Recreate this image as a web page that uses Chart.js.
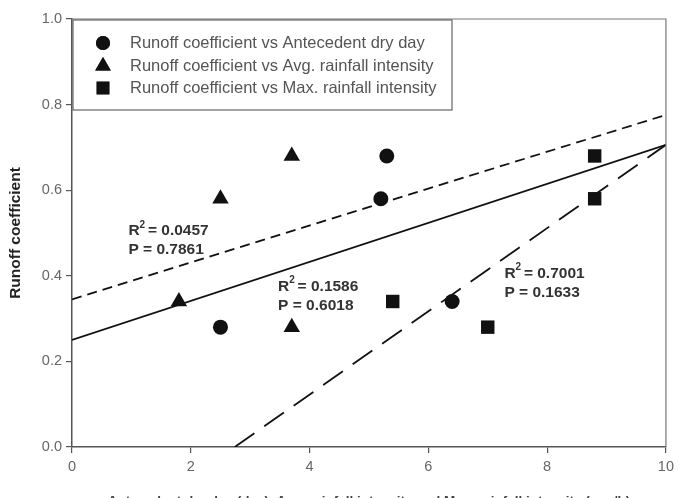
<!DOCTYPE html>
<html>
<head>
<meta charset="utf-8">
<script src="https://cdn.jsdelivr.net/npm/chart.js@4.4.1/dist/chart.umd.min.js"></script>
<style>
  html, body { margin: 0; padding: 0; background: #fff; }
  #wrap { width: 679px; height: 498px; overflow: hidden; position: relative; }
</style>
</head>
<body>
<div id="wrap"><canvas id="runoffChart" width="679" height="512"></canvas></div>
<script>
// Runoff coefficient scatter with linear fits

const xTicks = [0, 2, 4, 6, 8, 10];
const yTicks = [0.0, 0.2, 0.4, 0.6, 0.8, 1.0];

const seriesNames = [
  "Runoff coefficient vs Antecedent dry day",
  "Runoff coefficient vs Avg. rainfall intensity",
  "Runoff coefficient vs Max. rainfall intensity",
];

const dryDayX = [2.5, 5.2, 5.3, 6.4];
const dryDayY = [0.28, 0.58, 0.68, 0.34];

const avgIntensityX = [1.8, 2.5, 3.7, 3.7];
const avgIntensityY = [0.34, 0.58, 0.68, 0.28];

const maxIntensityX = [5.4, 7.0, 8.8, 8.8];
const maxIntensityY = [0.34, 0.28, 0.68, 0.58];

// fitted lines (end points, in data units)
const fitDashX = [0, 10];
const fitDashY = [0.345, 0.776];
const fitSolidX = [0, 10];
const fitSolidY = [0.25, 0.706];
const fitLongX = [2.74, 10];
const fitLongY = [0.0, 0.706];

const statR2 = ["0.0457", "0.1586", "0.7001"];
const statP = ["0.7861", "0.6018", "0.1633"];

const INK = "#111";
const AXIS = "#555";
const FONT = "'Liberation Sans', Arial, sans-serif";

function pairs(xs, ys) {
  return xs.map((x, i) => ({ x: x, y: ys[i] }));
}

function markerSet(label, xs, ys, style, radius) {
  return {
    type: "scatter",
    label: label,
    data: pairs(xs, ys),
    pointStyle: style,
    pointRadius: radius,
    pointHoverRadius: radius,
    backgroundColor: INK,
    borderColor: INK,
    borderWidth: 0,
  };
}

function fitSet(xs, ys, dash) {
  return {
    type: "line",
    label: "fit",
    data: pairs(xs, ys),
    borderColor: INK,
    borderWidth: 1.8,
    borderDash: dash,
    pointRadius: 0,
    fill: false,
    tension: 0,
  };
}

// R² / P labels, anchored in data units (left edge, first line centre)
const statAnchors = [
  { x: 0.95, y: 0.505 },
  { x: 3.47, y: 0.375 },
  { x: 7.28, y: 0.405 },
];

const framePlugin = {
  id: "frame",
  afterDatasetsDraw(chart) {
    const { ctx, chartArea: a } = chart;
    ctx.save();
    ctx.strokeStyle = "#777";
    ctx.lineWidth = 1.2;
    ctx.beginPath();
    ctx.moveTo(a.left, a.top);
    ctx.lineTo(a.right, a.top);
    ctx.lineTo(a.right, a.bottom);
    ctx.stroke();
    ctx.restore();
  },
};

const statsPlugin = {
  id: "stats",
  afterDatasetsDraw(chart) {
    const { ctx, scales } = chart;
    ctx.save();
    ctx.fillStyle = "#333";
    ctx.textBaseline = "middle";
    statAnchors.forEach((p, i) => {
      const px = scales.x.getPixelForValue(p.x);
      const py = scales.y.getPixelForValue(p.y);
      ctx.font = "bold 15.5px " + FONT;
      ctx.fillText("R", px, py);
      const rw = ctx.measureText("R").width;
      ctx.font = "bold 10px " + FONT;
      ctx.fillText("2", px + rw, py - 6);
      ctx.font = "bold 15.5px " + FONT;
      ctx.fillText(" = " + statR2[i], px + rw + 4, py);
      ctx.fillText("P = " + statP[i], px, py + 19);
    });
    ctx.restore();
  },
};

const legendPlugin = {
  id: "boxLegend",
  afterDraw(chart) {
    const { ctx, chartArea: a } = chart;
    const box = { x: a.left + 1, y: a.top + 1, w: 379, h: 90 };
    ctx.save();
    ctx.fillStyle = "#fff";
    ctx.fillRect(box.x, box.y, box.w, box.h);
    ctx.strokeStyle = "#666";
    ctx.lineWidth = 1.2;
    ctx.strokeRect(box.x, box.y, box.w, box.h);
    const styles = ["circle", "triangle", "rect"];
    const radii = [7, 9, 9];
    const rows = [23, 46, 68];
    ctx.font = "16.5px " + FONT;
    ctx.textBaseline = "middle";
    rows.forEach((dy, i) => {
      const cx = box.x + 30;
      const cy = box.y + dy;
      ctx.fillStyle = INK;
      Chart.helpers.drawPoint(ctx, { pointStyle: styles[i], radius: radii[i], rotation: 0, borderWidth: 0 }, cx, cy);
      ctx.fill();
      ctx.fillStyle = "#555";
      ctx.fillText(seriesNames[i], box.x + 57, cy);
    });
    ctx.restore();
  },
};

new Chart(document.getElementById("runoffChart"), {
  type: "scatter",
  data: {
    datasets: [
      fitSet(fitDashX, fitDashY, [10, 6]),
      fitSet(fitSolidX, fitSolidY, []),
      fitSet(fitLongX, fitLongY, [24, 12]),
      markerSet(seriesNames[0], dryDayX, dryDayY, "circle", 7.5),
      markerSet(seriesNames[1], avgIntensityX, avgIntensityY, "triangle", 9.5),
      markerSet(seriesNames[2], maxIntensityX, maxIntensityY, "rect", 9.5),
    ],
  },
  options: {
    responsive: false,
    animation: false,
    devicePixelRatio: 1,
    layout: { padding: { top: 19, right: 12, left: 0, bottom: 0 } },
    plugins: { legend: { display: false }, tooltip: { enabled: false } },
    scales: {
      x: {
        type: "linear",
        min: 0,
        max: 10,
        afterBuildTicks: (s) => { s.ticks = xTicks.map((v) => ({ value: v })); },
        afterFit: (s) => { s.height = 65; },
        ticks: { color: "#666", font: { family: FONT, size: 14.5 }, padding: 5 },
        grid: { drawOnChartArea: false, drawTicks: true, tickLength: 6, color: AXIS, lineWidth: 1.2 },
        border: { display: true, color: AXIS, width: 1.5 },
        title: {
          display: true,
          text: "Antecedent dry day (day), Avg. rainfall intensity and Max. rainfall intensity (mm/h)",
          color: "#444",
          font: { family: FONT, size: 13.5, weight: "bold" },
          padding: { top: 0, bottom: 3 },
        },
      },
      y: {
        type: "linear",
        min: 0,
        max: 1,
        afterBuildTicks: (s) => { s.ticks = yTicks.map((v) => ({ value: v })); },
        afterFit: (s) => { s.width = 72; },
        ticks: {
          color: "#666",
          font: { family: FONT, size: 14.5 },
          padding: 4,
          callback: (v) => Number(v).toFixed(1),
        },
        grid: { drawOnChartArea: false, drawTicks: true, tickLength: 6, color: AXIS, lineWidth: 1.2 },
        border: { display: true, color: AXIS, width: 1.5 },
        title: {
          display: true,
          text: "Runoff coefficient",
          color: "#222",
          font: { family: FONT, size: 15.5, weight: "bold" },
          padding: { top: 6, bottom: 0 },
        },
      },
    },
  },
  plugins: [framePlugin, statsPlugin, legendPlugin],
});
</script>
</body>
</html>
